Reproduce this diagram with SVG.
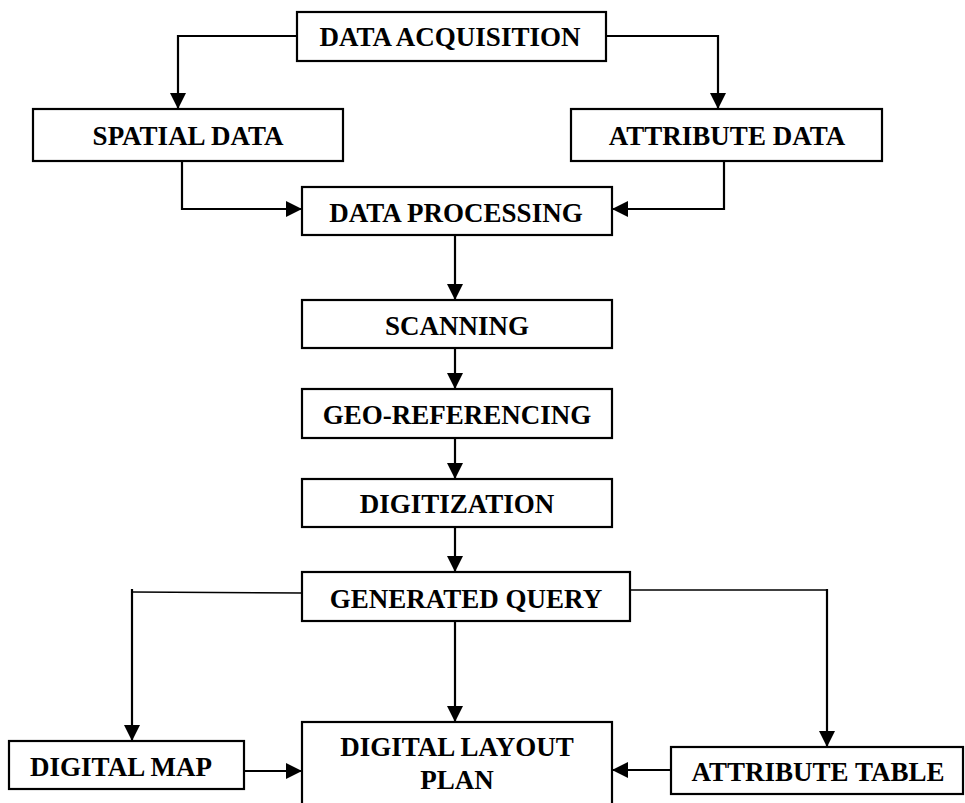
<svg xmlns="http://www.w3.org/2000/svg" width="965" height="803" viewBox="0 0 965 803">
<style>
.box{fill:#fff;stroke:#000;stroke-width:2.2}
.lbl{font-family:"Liberation Serif","Times New Roman",serif;font-weight:bold;font-size:27px;text-anchor:middle;fill:#000}
.c{fill:none;stroke:#000;stroke-width:2.2}
.t{fill:none;stroke:#000;stroke-width:1.6}
</style>
<defs>
<marker id="ah" markerUnits="userSpaceOnUse" markerWidth="16" markerHeight="16" refX="16" refY="8" orient="auto">
<path d="M0,0 L16,8 L0,16 z" fill="#000"/>
</marker>
</defs>
<rect width="965" height="803" fill="#fff"/>
<g id="connectors">
<path class="c" d="M297,36 H178 V109" marker-end="url(#ah)"/>
<path class="c" d="M606,36 H718 V109" marker-end="url(#ah)"/>
<path class="c" d="M182,153 V209 H302" marker-end="url(#ah)"/>
<path class="c" d="M724,153 V209 H612" marker-end="url(#ah)"/>
<path class="c" d="M455,235 V300" marker-end="url(#ah)"/>
<path class="c" d="M455,348 V389" marker-end="url(#ah)"/>
<path class="c" d="M455,438 V479" marker-end="url(#ah)"/>
<path class="c" d="M455,527 V572" marker-end="url(#ah)"/>
<path class="t" d="M302,593 L132,592"/>
<path class="c" d="M132,589 V741" marker-end="url(#ah)"/>
<path class="c" d="M455,621 V722" marker-end="url(#ah)"/>
<path class="t" d="M630,590 H827"/>
<path class="c" d="M827,589 V747" marker-end="url(#ah)"/>
<path class="c" d="M244,771 H302" marker-end="url(#ah)"/>
<path class="c" d="M671,770 H612" marker-end="url(#ah)"/>
</g>
<g id="data-acquisition"><rect class="box" x="297" y="12" width="309" height="49"/><text class="lbl" x="450" y="46">DATA ACQUISITION</text></g>
<g id="spatial-data"><rect class="box" x="33" y="109" width="310" height="52"/><text class="lbl" x="188" y="145">SPATIAL DATA</text></g>
<g id="attribute-data"><rect class="box" x="571" y="109" width="311" height="52"/><text class="lbl" x="727" y="145">ATTRIBUTE DATA</text></g>
<g id="data-processing"><rect class="box" x="302" y="187" width="310" height="48"/><text class="lbl" x="456" y="222">DATA PROCESSING</text></g>
<g id="scanning"><rect class="box" x="302" y="300" width="310" height="48"/><text class="lbl" x="457" y="335">SCANNING</text></g>
<g id="geo-referencing"><rect class="box" x="302" y="389" width="310" height="49"/><text class="lbl" x="457" y="424">GEO-REFERENCING</text></g>
<g id="digitization"><rect class="box" x="302" y="479" width="310" height="48"/><text class="lbl" x="457" y="513">DIGITIZATION</text></g>
<g id="generated-query"><rect class="box" x="302" y="572" width="328" height="49"/><text class="lbl" x="466" y="608">GENERATED QUERY</text></g>
<g id="digital-map"><rect class="box" x="9" y="741" width="235" height="48"/><text class="lbl" x="121" y="776">DIGITAL MAP</text></g>
<g id="digital-layout-plan"><rect class="box" x="302" y="722" width="310" height="100"/><text class="lbl" x="457" y="756">DIGITAL LAYOUT</text><text class="lbl" x="457" y="789">PLAN</text></g>
<g id="attribute-table"><rect class="box" x="671" y="747" width="292" height="47"/><text class="lbl" x="818" y="781">ATTRIBUTE TABLE</text></g>
</svg>
